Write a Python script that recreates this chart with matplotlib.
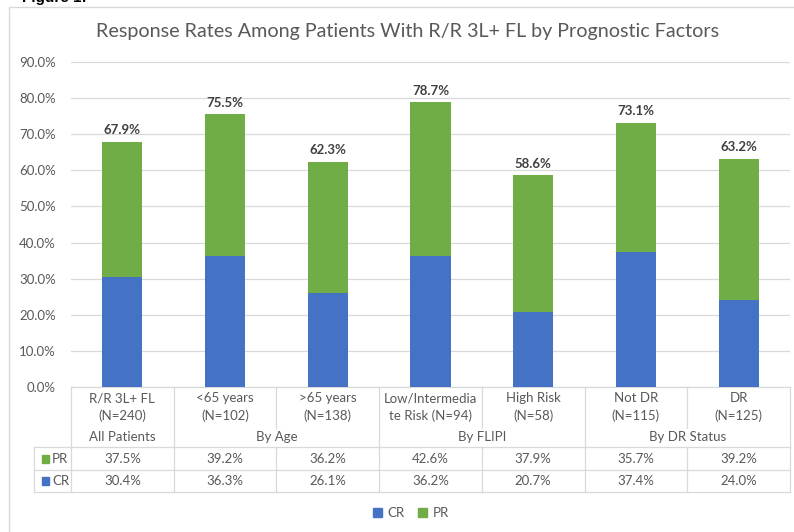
import matplotlib
matplotlib.use("Agg")
import matplotlib.pyplot as plt
from matplotlib.patches import Rectangle
from matplotlib.lines import Line2D

plt.rcParams["font.family"] = ["Lato", "DejaVu Sans"]

# ---- data ----
categories = ["R/R 3L+ FL\n(N=240)", "<65 years\n(N=102)", ">65 years\n(N=138)",
              "Low/Intermedia\nte Risk (N=94)", "High Risk\n(N=58)",
              "Not DR\n(N=115)", "DR\n(N=125)"]
groups = ["All Patients", "By Age", "By FLIPI", "By DR Status"]
group_sizes = [1, 2, 2, 2]
cr = [30.4, 36.3, 26.1, 36.2, 20.7, 37.4, 24.0]
pr = [37.5, 39.2, 36.2, 42.6, 37.9, 35.7, 39.2]
totals = [67.9, 75.5, 62.3, 78.7, 58.6, 73.1, 63.2]
yticks = [0, 10, 20, 30, 40, 50, 60, 70, 80, 90]

BLUE = "#4472C4"
GREEN = "#70AD47"
TXT = "#595959"
GRID = "#D9D9D9"
FS = 9.5

W, H = 794, 532
fig = plt.figure(figsize=(W / 100, H / 100), dpi=100)

# plot area in pixel coordinates
px_left, px_right, px_top, px_bottom = 71, 790, 62, 387
ax = fig.add_axes([px_left / W, 1 - px_bottom / H,
                   (px_right - px_left) / W, (px_bottom - px_top) / H])

n = len(categories)
x = list(range(n))
ax.bar(x, cr, width=0.39, color=BLUE, zorder=3)
ax.bar(x, pr, bottom=cr, width=0.39, color=GREEN, zorder=3)
for xi, c, p, t in zip(x, cr, pr, totals):
    ax.annotate(f"{t:.1f}%", (xi, c + p), xytext=(0, 4), textcoords="offset points",
                ha="center", va="bottom", fontsize=9.5, fontweight="bold", color="#404040")

ax.set_xlim(-0.5, n - 0.5)
ax.set_ylim(0, 90)
ax.set_yticks(yticks)
ax.set_yticklabels([f"{v:.1f}%" for v in yticks], fontsize=FS, color=TXT)
ax.tick_params(axis="y", length=0, pad=11)
ax.set_xticks([])
ax.grid(axis="y", color=GRID, linewidth=0.9, zorder=0)
for s in ["top", "right", "left"]:
    ax.spines[s].set_visible(False)
ax.spines["bottom"].set_color(GRID)
ax.spines["bottom"].set_linewidth(0.9)

# helpers: y from figure pixels (top-down) to data, x from pixels to data
def ypx(p):
    return (px_bottom - p) / (px_bottom - px_top) * 90

col_w = (px_right - px_left) / n
def xdata(px):
    return -0.5 + (px - px_left) / col_w

def hline(y, x0, x1):
    ax.add_line(Line2D([x0, x1], [ypx(y), ypx(y)], color=GRID, lw=0.9, clip_on=False))

def vline(xd, y0, y1):
    ax.add_line(Line2D([xd, xd], [ypx(y0), ypx(y1)], color=GRID, lw=0.9, clip_on=False))

tbl_left = xdata(34)
row_lines = [447, 470, 492]
for y in row_lines:
    hline(y, tbl_left, n - 0.5)
vline(tbl_left, 447, 492)

# column boundaries: group edges span full height, inner edges skip group label row
edges = [0]
for g in group_sizes:
    edges.append(edges[-1] + g)
for k in range(n + 1):
    xd = k - 0.5
    if k in edges:
        vline(xd, px_bottom, 492)
    else:
        vline(xd, px_bottom, 428)
        vline(xd, 447, 492)

for xi, lab in zip(x, categories):
    ax.text(xi, ypx(407), lab, ha="center", va="center", fontsize=FS,
            color=TXT, linespacing=1.5, clip_on=False)
start = 0
for g, size in zip(groups, group_sizes):
    ax.text(start + (size - 1) / 2, ypx(437), g, ha="center", va="center",
            fontsize=FS, color=TXT, clip_on=False)
    start += size

for row_y, name, vals, col in [(459, "PR", pr, GREEN), (481, "CR", cr, BLUE)]:
    ax.text(xdata(52), ypx(row_y), name, ha="left", va="center",
            fontsize=FS, color=TXT, clip_on=False)
    ax.add_patch(Rectangle((xdata(42), ypx(row_y + 3.5)), 7 / col_w, 7 / 3.611,
                           color=col, clip_on=False))
    for xi, v in zip(x, vals):
        ax.text(xi, ypx(row_y), f"{v:.1f}%", ha="center", va="center",
                fontsize=FS, color=TXT, clip_on=False)

# title
fig.text(408 / W, 1 - 32 / H,
         "Response Rates Among Patients With R/R 3L+ FL by Prognostic Factors",
         ha="center", va="center", fontsize=14.2, color=TXT)

# legend
handles = [Rectangle((0, 0), 1, 1, color=BLUE), Rectangle((0, 0), 1, 1, color=GREEN)]
fig.legend(handles, ["CR", "PR"], loc="center", bbox_to_anchor=(411 / W, 1 - 513 / H),
           ncol=2, frameon=False, fontsize=FS, handlelength=0.7, handleheight=0.7,
           handletextpad=0.4, columnspacing=1.0, labelcolor=TXT)

# chart frame
fig.add_artist(Rectangle((9 / W, -0.05), (W + 5 - 9) / W, 1.05 - 7 / H,
                         transform=fig.transFigure, fill=False,
                         edgecolor=GRID, linewidth=1.0))

# figure caption at the top edge
fig.text(22 / W, 1 - 2 / H, "Figure 1:", ha="left", va="baseline",
         fontsize=11, fontweight="bold", color="black",
         family=["Liberation Sans", "DejaVu Sans"])

fig.savefig("out.png", dpi=100, facecolor="white")
